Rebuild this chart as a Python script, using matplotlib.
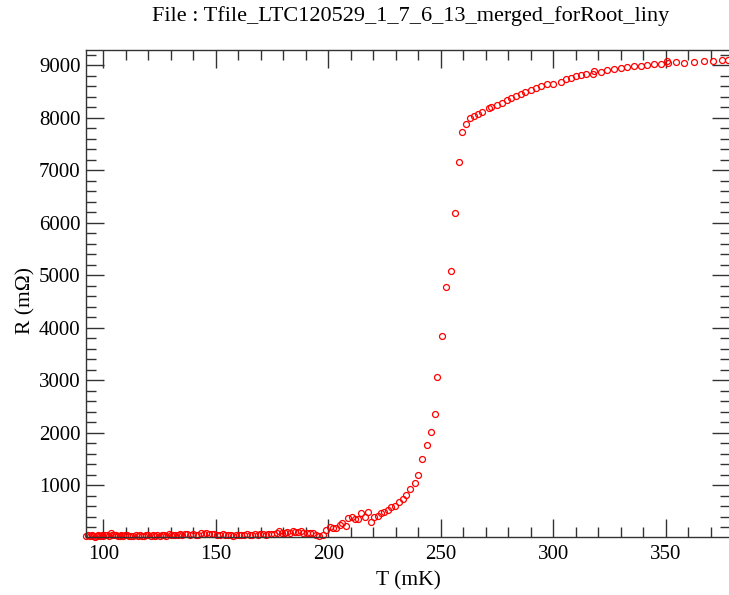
import matplotlib
matplotlib.use("Agg")
import matplotlib.pyplot as plt
from matplotlib.ticker import MultipleLocator

T_low = [92.5, 93.3, 94.0, 94.8, 95.5, 96.3, 97.0, 97.8, 98.5, 99.3,
         100.0, 100.8, 101.6, 102.4, 103.2, 104.0, 104.8, 105.6, 106.4, 107.2,
         108.0, 108.9, 109.8, 110.7, 111.6, 112.5, 113.4, 114.3, 115.2, 116.1,
         117.0, 118.0, 119.0, 120.0, 121.0, 122.0, 123.0, 124.0, 125.0, 126.0,
         127.0, 128.0, 129.0, 130.0, 131.0, 132.0, 133.0, 134.0, 135.0, 136.2,
         137.4, 138.6, 139.8, 141.0, 142.2, 143.4, 144.6, 145.8, 147.0, 148.2,
         149.4, 150.6, 151.8, 153.0, 154.2, 155.4, 156.6, 157.8, 159.0, 160.2,
         161.4, 162.6, 163.8, 165.0, 166.2, 167.4, 168.6, 169.8, 171.0, 172.2,
         173.4, 174.6, 175.8, 177.0, 178.2, 179.4, 180.6, 181.8, 183.0, 184.2,
         185.4, 186.6]
R_low = [30, 45, 25, 50, 35, 20, 40, 55, 30, 45,
         35, 50, 60, 40, 85, 55, 45, 60, 40, 35,
         50, 30, 45, 55, 40, 30, 25, 45, 35, 50,
         40, 30, 55, 45, 35, 60, 40, 50, 35, 45,
         55, 40, 65, 50, 45, 60, 55, 70, 50, 75,
         65, 55, 70, 60, 50, 85, 75, 90, 65, 70,
         80, 60, 55, 70, 50, 45, 55, 40, 50, 60,
         45, 55, 65, 50, 60, 70, 55, 75, 65, 60,
         70, 80, 65, 90, 135, 100, 85, 110, 95, 120,
         105, 115]

T_mid = [187.8, 188.9, 190.7, 192.0, 193.2, 194.7, 196.0, 197.6, 199.1, 200.6,
         202.1, 203.6, 205.0, 206.2, 207.7, 208.8, 210.5, 212.0, 213.2, 214.4,
         216.1, 217.7, 219.0, 220.5, 222.0, 223.5, 224.9, 226.4, 228.0, 229.8,
         231.5, 233.1, 234.7, 236.5, 238.3, 239.9, 241.8, 243.7, 245.4, 247.2,
         248.5, 250.3, 252.5, 254.3, 256.1, 257.9, 259.2]
R_mid = [122, 90, 90, 90, 90, 46, 40, 46, 141, 198,
         185, 185, 236, 275, 223, 371, 390, 357, 357, 466,
         390, 500, 294, 403, 422, 472, 500, 538, 588, 607,
         683, 748, 824, 920, 1046, 1199, 1505, 1772, 2021, 2355,
         3061, 3844, 4780, 5084, 6190, 7164, 7737]

T_high = [261.0, 263.1, 264.9, 266.4, 268.4, 271.3, 272.1, 275.1, 277.3, 279.5,
          281.0, 283.2, 285.4, 287.2, 289.9, 292.1, 294.3, 297.3, 300.0, 303.2,
          305.5, 307.7, 309.9, 312.1, 314.4, 317.8, 318.1, 321.1, 324.0, 327.0,
          330.0, 332.9, 335.9, 338.9, 341.8, 344.8, 347.7, 350.7, 350.9, 354.4,
          358.1, 362.6, 367.0, 371.0, 374.8, 377.4]
R_high = [7890, 7998, 8042, 8074, 8118, 8181, 8213, 8251, 8290, 8341,
          8380, 8405, 8456, 8487, 8533, 8563, 8596, 8634, 8647, 8685,
          8729, 8761, 8792, 8819, 8825, 8838, 8887, 8868, 8901, 8920,
          8939, 8964, 8977, 8990, 9002, 9015, 9021, 9078, 9040, 9059,
          9047, 9053, 9072, 9078, 9091, 9091]

T = T_low + T_mid + T_high
R = R_low + R_mid + R_high

# ── Plot (ROOT-like look) ────────────────────────────────────────────────────
plt.rcParams["font.family"] = ["Liberation Serif", "DejaVu Serif"]
fig = plt.figure(figsize=(7.29, 5.95), dpi=100)
ax = fig.add_axes([86/729, 58/595, 644/729, 487/595])

ax.plot(T, R, ls="none", marker="o", ms=4.3, mfc="none", mec="red", mew=0.9,
        clip_on=False)

ax.set_xlim(92.3, 378.5)
ax.set_ylim(15, 9290)   # ROOT starts just above 0, so no "0" label
ax.xaxis.set_major_locator(MultipleLocator(50))
ax.xaxis.set_minor_locator(MultipleLocator(10))
ax.yaxis.set_major_locator(MultipleLocator(1000))
ax.yaxis.set_minor_locator(MultipleLocator(200))
ax.tick_params(which="both", direction="in", top=True, right=True,
               labelsize=15, color="#333333")
ax.tick_params(axis="x", pad=6)
ax.tick_params(axis="y", pad=4)
ax.tick_params(which="major", length=13, width=1.0)
ax.tick_params(which="minor", length=7, width=1.0)
for sp in ax.spines.values():
    sp.set_color("#333333"); sp.set_linewidth(1.0)

ax.set_xlabel("T (mK)", fontsize=15.5, labelpad=5)
ax.set_ylabel("R (m\u03a9)", fontsize=15.5)
ax.yaxis.set_label_coords(-0.079, 0.485)
fig.text(411/729, 1 - 16/595, "File : Tfile_LTC120529_1_7_6_13_merged_forRoot_liny",
         ha="center", va="center", fontsize=16)

fig.savefig("out.png", dpi=100)
